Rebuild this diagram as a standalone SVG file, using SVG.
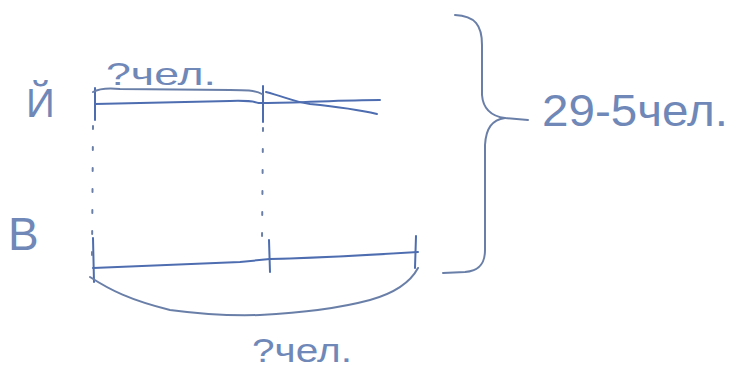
<svg xmlns="http://www.w3.org/2000/svg" width="737" height="369" viewBox="0 0 737 369">
<style>
.ln{fill:none;stroke:#4d6db0;stroke-width:2;stroke-linecap:round;stroke-linejoin:round}
.br{fill:none;stroke:#6a7fa8;stroke-width:2;stroke-linecap:round}
.dot{fill:none;stroke:#6a7fa8;stroke-width:2;stroke-dasharray:3 18;stroke-linecap:round}
.t{font-family:"Liberation Sans","DejaVu Sans",sans-serif;fill:#6f88b8}
</style>
<rect width="737" height="369" fill="#ffffff"/>
<g id="labels">
<text class="t" x="26" y="117" font-size="40">Й</text>
<text class="t" x="8" y="250" font-size="46">В</text>
<text class="t" x="106" y="85" font-size="32" textLength="110" lengthAdjust="spacingAndGlyphs">?чел.</text>
<text class="t" x="252" y="362" font-size="34" textLength="100" lengthAdjust="spacingAndGlyphs">?чел.</text>
<text class="t" x="542" y="126" font-size="44" textLength="186" lengthAdjust="spacingAndGlyphs">29-5чел.</text>
</g>
<g id="top-segment">
<path class="ln" d="M95,104 C150,103 200,102 230,101 S255,104 262,103"/>
<path class="ln" d="M95,88 L95,120"/>
<path class="ln" d="M263,86 L263,122"/>
<path class="ln" d="M266,92 C285,97 295,102 310,104 C340,107 360,110 377,114"/>
<path class="ln" d="M263,103 C300,103 340,100 380,100"/>
</g>
<g id="bottom-segment">
<path class="ln" d="M93,268 C150,266 200,264 240,262 L270,259 C320,258 370,255 418,252"/>
<path class="ln" d="M93,238 L94,282"/>
<path class="ln" d="M269,240 L270,272"/>
<path class="ln" d="M416,236 L415,268"/>
</g>
<g id="connectors">
<path class="dot" d="M93,126 L92,256"/>
<path class="dot" d="M263,128 L262,240"/>
<path class="br" d="M93,92 C100,88 110,88 120,89 L230,90 C245,90 255,90 262,94"/>
<path class="br" d="M90,277 C110,290 130,300 170,310 C200,314 230,316 260,315 C300,313 340,308 370,300 C395,293 410,283 418,268"/>
<path class="br" d="M455,15 C475,16 482,25 482,45 L482,95 C483,108 490,116 505,118 L528,120"/>
<path class="br" d="M505,118 C492,120 486,128 485,145 L485,250 C485,265 478,271 465,272 L443,273"/>
</g>
</svg>
